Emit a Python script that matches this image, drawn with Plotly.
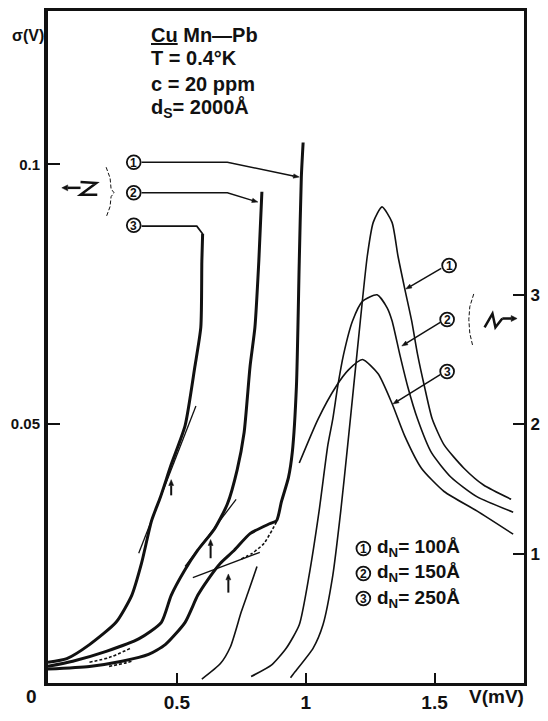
import math
import plotly.graph_objects as go

# ---- sigma(V) curves (left axis), thick lines, labelled 1..3 ----
s1_v = [0.0, 0.161, 0.287, 0.390, 0.455, 0.532, 0.581, 0.620, 0.669, 0.723, 0.784, 0.860, 0.887,
        0.906, 0.933, 0.948, 0.964, 0.975, 0.983, 0.990]
s1_s = [0.0027, 0.0032, 0.0042, 0.0055, 0.0074, 0.0117, 0.0169, 0.0199, 0.0231, 0.0256, 0.0288,
        0.0307, 0.0313, 0.0350, 0.0396, 0.0445, 0.0572, 0.0813, 0.0975, 0.1042]

s2_v = [0.0, 0.096, 0.226, 0.352, 0.440, 0.478, 0.531, 0.581, 0.646, 0.696, 0.734, 0.761, 0.784,
        0.803, 0.818, 0.830]
s2_s = [0.0032, 0.0042, 0.0061, 0.0085, 0.0117, 0.0169, 0.0218, 0.0256, 0.0297, 0.0345, 0.0411,
        0.0483, 0.0610, 0.0686, 0.0813, 0.0947]

s3_v = [0.0, 0.073, 0.161, 0.264, 0.325, 0.363, 0.402, 0.436, 0.478, 0.532, 0.570, 0.593, 0.597,
        0.600]
s3_s = [0.0040, 0.0047, 0.0074, 0.0117, 0.0169, 0.0231, 0.0313, 0.0358, 0.0421, 0.0496, 0.0610,
        0.0686, 0.0813, 0.0866]

# dashed alternatives of the low-bias parts
d1_v = [0.887, 0.838, 0.792, 0.750]
d1_s = [0.0311, 0.0269, 0.0250, 0.0239]
d2_v = [0.161, 0.237, 0.325]
d2_s = [0.0040, 0.0049, 0.0068]
d3_v = [0.237, 0.295, 0.325]
d3_s = [0.0032, 0.0038, 0.0042]

# tangent lines at the knees
t1_v = [0.562, 0.822]
t1_s = [0.0203, 0.0252]
t2_v = [0.532, 0.730]
t2_s = [0.0225, 0.0354]
t3_v = [0.352, 0.574]
t3_s = [0.0250, 0.0534]

# ---- density-of-states curves (right axis), thin lines ----
n1_v = [0.941, 0.952, 1.029, 1.067, 1.105, 1.136, 1.163, 1.186, 1.212, 1.239, 1.262, 1.296,
        1.335, 1.358, 1.384, 1.411, 1.434, 1.461, 1.491, 1.537, 1.614, 1.690, 1.797]
n1_r = [0.04, 0.07, 0.27, 0.45, 0.83, 1.33, 1.84, 2.29, 2.80, 3.30, 3.56, 3.68,
        3.56, 3.30, 3.05, 2.80, 2.54, 2.29, 2.04, 1.84, 1.66, 1.53, 1.42]

n2_v = [0.788, 0.868, 0.925, 0.975, 1.013, 1.052, 1.086, 1.105, 1.124, 1.147, 1.182, 1.220,
        1.277, 1.316, 1.335, 1.365, 1.396, 1.434, 1.488, 1.564, 1.664, 1.805]
n2_r = [0.05, 0.14, 0.27, 0.45, 0.83, 1.33, 1.84, 2.04, 2.29, 2.54, 2.80, 2.95,
        3.00, 2.90, 2.80, 2.54, 2.29, 2.04, 1.78, 1.59, 1.44, 1.32]

n3_v = [0.597, 0.669, 0.708, 0.750, 0.780, 0.811, None, 0.975, 1.048, 1.117, 1.166, 1.220,
        1.281, 1.335, 1.384, 1.449, 1.537, 1.664, 1.805]
n3_r = [0.03, 0.15, 0.28, 0.55, 0.72, 0.90, None, 1.70, 2.04, 2.29, 2.42, 2.50,
        2.39, 2.16, 1.91, 1.66, 1.48, 1.33, 1.15]

x_ticks = [0.5, 1, 1.5]
x_labels = ["0.5", "1", "1.5"]
y_ticks = [0.05, 0.1]
y_labels = ["0.05", "0.1"]
y2_ticks = [1, 2, 3]
y2_labels = ["1", "2", "3"]

legend_lines = ["d<sub>N</sub>= 100Å", "d<sub>N</sub>= 150Å", "d<sub>N</sub>= 250Å"]
curve_ids = ["1", "2", "3"]

FONT = "Liberation Sans"
INK = "#111111"

# plot box in page pixels
L, R, T, B = 48, 531, 8, 692


def px(x):
    return (x - L) / (R - L)


def py(y):
    return (B - y) / (B - T)


fig = go.Figure()


def line(xs, ys, w, axis="y", dash="solid"):
    fig.add_trace(go.Scatter(x=xs, y=ys, mode="lines", yaxis=axis, showlegend=False,
                             hoverinfo="skip", connectgaps=False,
                             line=dict(color=INK, width=w, dash=dash, shape="spline",
                                       smoothing=0.6)))


for xs, ys in [(s1_v, s1_s), (s2_v, s2_s), (s3_v, s3_s)]:
    line(xs, ys, 3.0)
for xs, ys in [(d1_v, d1_s), (d2_v, d2_s), (d3_v, d3_s)]:
    line(xs, ys, 1.6, dash="3px,2px")
for xs, ys in [(t1_v, t1_s), (t2_v, t2_s), (t3_v, t3_s)]:
    line(xs, ys, 1.3)
for xs, ys in [(n1_v, n1_r), (n2_v, n2_r), (n3_v, n3_r)]:
    line(xs, ys, 1.6, axis="y2")

shapes = []
annotations = []


def path_of(points, close=False):
    d = "M " + " L ".join(f"{px(a):.5f},{py(b):.5f}" for a, b in points)
    return d + (" Z" if close else "")


def poly(points, w=1.5, dash="solid"):
    shapes.append(dict(type="path", path=path_of(points), xref="paper", yref="paper",
                       line=dict(color=INK, width=w, dash=dash)))


def arrow(hx, hy, tx, ty, w=1.5, hl=6, hw=2.5):
    """Line from tail (tx, ty) to a filled head at (hx, hy), page pixels."""
    dx, dy = hx - tx, hy - ty
    n = math.hypot(dx, dy)
    ux, uy = dx / n, dy / n
    bx, by = hx - ux * hl, hy - uy * hl
    poly([(tx, ty), (bx, by)], w=w)
    tri = [(hx, hy), (bx - uy * hw, by + ux * hw), (bx + uy * hw, by - ux * hw)]
    shapes.append(dict(type="path", path=path_of(tri, close=True), xref="paper",
                       yref="paper", fillcolor=INK, line=dict(color=INK, width=0.5)))


def text(x, y, s, size, anchor="left", yanchor="middle"):
    annotations.append(dict(x=px(x), y=py(y), xref="paper", yref="paper", text=s,
                            showarrow=False, xanchor=anchor, yanchor=yanchor,
                            font=dict(family=FONT, size=size, color=INK, weight="bold")))


def circled(x, y, s, r=7):
    shapes.append(dict(type="circle", xref="paper", yref="paper",
                       x0=px(x - r), x1=px(x + r), y0=py(y + r), y1=py(y - r),
                       line=dict(color=INK, width=1.8)))
    text(x, y + 0.5, s, 12, anchor="center")


# leaders from the left-hand labels to the sigma curves
poly([(143, 162), (230, 162), (297, 176)])
arrow(303, 177, 296, 175.8, w=1.5, hl=6, hw=2.2)
poly([(143, 193), (230, 193), (256, 201)])
arrow(261, 202.5, 255, 200.7, w=1.5, hl=6, hw=2.2)
poly([(143, 227), (199, 227), (205, 235)], w=1.7)
# braces pointing to the axes
poly([(107, 167), (111, 178), (112, 189), (115, 193), (112, 197), (111, 207), (107, 218)],
     w=1, dash="4px,2px")
poly([(480, 296), (476, 309), (475, 322), (476, 336), (479, 349)], w=1, dash="4px,2px")
# axis-pointer zigzags
poly([(81, 182), (97, 183), (81, 195), (98, 195)], w=2.5)
poly([(491, 330), (499, 316), (502, 330), (509, 321)], w=2.5)
arrow(62, 188, 81, 188, w=2.5, hl=6, hw=3)
arrow(524, 321, 509, 321, w=2.5, hl=6, hw=3)

# leaders from the right-hand labels to the peaked curves
arrow(411, 291, 447, 270, w=1.5, hl=6, hw=2.2)
arrow(407, 349, 446, 325, w=1.5, hl=6, hw=2.2)
arrow(398, 408, 446, 378, w=1.5, hl=6, hw=2.2)

# small markers at the knees
arrow(173, 485, 173, 501, w=2, hl=6, hw=2.5)
arrow(213, 546, 213, 565, w=2, hl=6, hw=2.5)
arrow(231, 581, 231, 600, w=2, hl=6, hw=2.5)

# sample description
text(150, 32, "<u>Cu</u> Mn—Pb", 20)
text(150, 56, "T = 0.4°K", 20)
text(150, 82, "c = 20 ppm", 20)
text(150, 107, "d<sub>S</sub>= 2000Å", 20)
text(46, 33, "σ(V)", 16, anchor="right")

# curve labels
for c, (x, y) in zip(curve_ids, [(135, 162), (135, 193), (135, 226)]):
    circled(x, y, c)
for c, (x, y) in zip(curve_ids, [(455, 267), (453, 322), (453, 375)]):
    circled(x, y, c)

# key
for i, (c, s) in enumerate(zip(curve_ids, legend_lines)):
    yy = 555 + i * 25.5
    circled(368, yy, c)
    text(380, yy, s, 19)

# axis captions
text(31, 706, "0", 19, anchor="center")
text(503, 706, "V(mV)", 19, anchor="center")

tick_font = dict(family=FONT, color=INK, weight="bold")

fig.update_layout(
    width=548, height=721,
    margin=dict(l=L, r=548 - R, t=T, b=721 - B),
    paper_bgcolor="white", plot_bgcolor="white",
    shapes=shapes, annotations=annotations,
    xaxis=dict(range=[0, (R - L) / 261.5], showgrid=False, zeroline=False,
               showline=True, linewidth=3, linecolor=INK, mirror=True,
               ticks="inside", ticklen=10, tickwidth=2, tickcolor=INK,
               tickvals=x_ticks, ticktext=x_labels,
               tickfont=dict(size=19, **tick_font)),
    yaxis=dict(range=[0, (B - T) / 5280], showgrid=False, zeroline=False,
               showline=True, linewidth=4, linecolor=INK,
               ticks="inside", ticklen=12, tickwidth=2, tickcolor=INK,
               tickvals=y_ticks, ticktext=y_labels,
               ticklabelstandoff=1,
               tickfont=dict(size=15, **tick_font)),
    yaxis2=dict(range=[0, (B - T) / 131.7], overlaying="y", side="right",
                showgrid=False, zeroline=False,
                showline=True, linewidth=3, linecolor=INK,
                ticks="inside", ticklen=11, tickwidth=2, tickcolor=INK,
                tickvals=y2_ticks, ticktext=y2_labels,
                tickfont=dict(size=17, **tick_font)),
)

fig.write_html("out.html")
